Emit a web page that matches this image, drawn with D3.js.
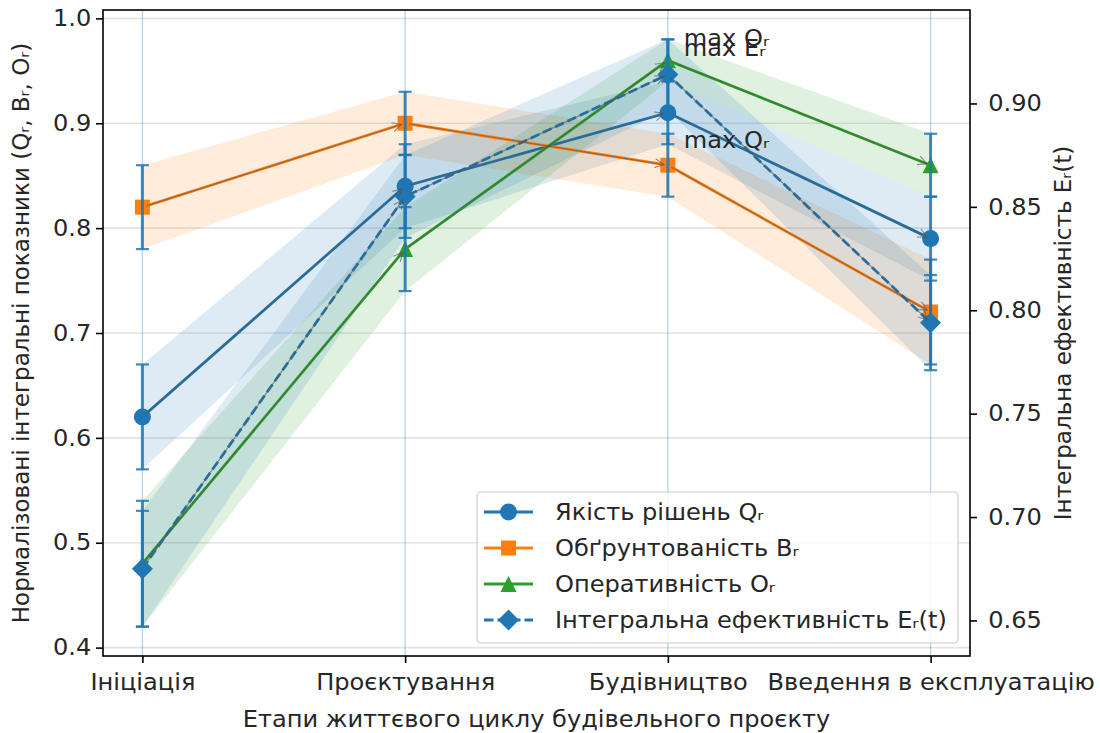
<!DOCTYPE html>
<html><head><meta charset="utf-8">
<script src="https://cdn.jsdelivr.net/npm/d3@7"></script>
<style>
body{margin:0;background:#fff}
text{font-family:"DejaVu Sans",sans-serif;fill:#262626}
</style>
</head><body>
<svg id="c" width="1100" height="733"></svg>
<script>
// ---- data ----
const categories = ["Ініціація", "Проєктування", "Будівництво", "Введення в експлуатацію"];
const qualityValues = [0.62, 0.84, 0.91, 0.79];
const qualityErrors = [0.05, 0.04, 0.03, 0.04];
const validityValues = [0.82, 0.90, 0.86, 0.72];
const validityErrors = [0.04, 0.03, 0.03, 0.05];
const promptValues = [0.48, 0.78, 0.96, 0.86];
const promptErrors = [0.06, 0.04, 0.02, 0.03];
const efficiencyValues = [0.675, 0.855, 0.914, 0.794];
const efficiencyErrors = [0.028, 0.02, 0.017, 0.023];
const leftTicks = [0.4, 0.5, 0.6, 0.7, 0.8, 0.9, 1.0];
const rightTicks = [0.65, 0.70, 0.75, 0.80, 0.85, 0.90];
const seriesNames = ["Якість рішень Qᵣ", "Обґрунтованість Bᵣ", "Оперативність Oᵣ", "Інтегральна ефективність Eᵣ(t)"];
const annotations = [
  {label: "max Oᵣ", series: 2, index: 2},
  {label: "max Eᵣ", series: 3, index: 2},
  {label: "max Qᵣ", series: 0, index: 2}
];

// ---- layout ----
const svg = d3.select("#c");
const L = 103, R = 970, T = 10, B = 656;
const FS = 22.5, SX = 1.07;

const x = d3.scalePoint().domain(categories).range([L, R]).padding(0.15);
function padded(vals, errs) {
  const lo = d3.min(vals, (v, i) => v - errs[i]);
  const hi = d3.max(vals, (v, i) => v + errs[i]);
  const p = (hi - lo) * 0.05;
  return [lo - p, hi + p];
}
const yL = d3.scaleLinear()
  .domain(padded([...qualityValues, ...validityValues, ...promptValues],
                 [...qualityErrors, ...validityErrors, ...promptErrors]))
  .range([B, T]);
const yR = d3.scaleLinear().domain(padded(efficiencyValues, efficiencyErrors)).range([B, T]);

const series = [
  {values: qualityValues, errors: qualityErrors, color: "#1f77b4", marker: "circle", y: yL},
  {values: validityValues, errors: validityErrors, color: "#ff7f0e", marker: "square", y: yL},
  {values: promptValues, errors: promptErrors, color: "#2ca02c", marker: "triangle", y: yL},
  {values: efficiencyValues, errors: efficiencyErrors, color: "#1f77b4", marker: "diamond", y: yR, dash: "9.5,4"}
];

function markerPath(type) {
  if (type === "circle") return d3.symbol(d3.symbolCircle, Math.PI * 8.5 * 8.5)();
  if (type === "square") return "M-7.5,-7.5H7.5V7.5H-7.5Z";
  if (type === "triangle") return "M0,-8L8,8H-8Z";
  return "M0,-10.5L10.5,0L0,10.5L-10.5,0Z";
}
function htext(parent, px, py, str, anchor) {
  return parent.append("text")
    .attr("transform", `translate(${px},${py}) scale(${SX},1)`)
    .attr("text-anchor", anchor || "start")
    .attr("font-size", FS).text(str);
}

// grid
const g = svg.append("g");
g.selectAll(".hg").data(leftTicks).join("line")
  .attr("x1", L).attr("x2", R).attr("y1", d => yL(d)).attr("y2", d => yL(d))
  .attr("stroke", "#b0b0b0").attr("stroke-opacity", 0.35).attr("stroke-width", 1.6);
g.selectAll(".vg").data(categories).join("line")
  .attr("x1", d => x(d)).attr("x2", d => x(d)).attr("y1", T).attr("y2", B)
  .attr("stroke", "#1f77b4").attr("stroke-opacity", 0.3).attr("stroke-width", 1.4);

// bands
series.forEach(s => {
  const area = d3.area()
    .x((d, i) => x(categories[i]))
    .y0((d, i) => s.y(d - s.errors[i]))
    .y1((d, i) => s.y(d + s.errors[i]));
  g.append("path").datum(s.values).attr("d", area)
    .attr("fill", s.color).attr("fill-opacity", 0.15);
});

// lines + markers
series.forEach(s => {
  const line = d3.line().x((d, i) => x(categories[i])).y(d => s.y(d));
  g.append("path").datum(s.values).attr("d", line)
    .attr("fill", "none").attr("stroke", s.color).attr("stroke-width", 2.8)
    .attr("stroke-dasharray", s.dash || null);
  if (s.marker !== "diamond") {
    g.selectAll(null).data(s.values).join("path")
      .attr("d", markerPath(s.marker))
      .attr("transform", (d, i) => `translate(${x(categories[i])},${s.y(d)})`)
      .attr("fill", s.color);
  }
});

// error bars
series.forEach(s => {
  s.values.forEach((v, i) => {
    const cx = x(categories[i]);
    const y1 = s.y(v + s.errors[i]), y2 = s.y(v - s.errors[i]);
    const eg = g.append("g").attr("stroke", "#1f77b4").attr("stroke-opacity", 0.85);
    eg.append("line").attr("x1", cx).attr("x2", cx).attr("y1", y1).attr("y2", y2).attr("stroke-width", 3);
    [y1, y2].forEach(yy => eg.append("line").attr("x1", cx - 6.5).attr("x2", cx + 6.5)
      .attr("y1", yy).attr("y2", yy).attr("stroke-width", 2.2));
  });
});

// diamond markers on top
{
  const s = series[3];
  g.selectAll(null).data(s.values).join("path")
    .attr("d", markerPath("diamond"))
    .attr("transform", (d, i) => `translate(${x(categories[i])},${s.y(d)})`)
    .attr("fill", s.color);
}

// transition arrows
const ag = svg.append("g").attr("stroke", "#555").attr("stroke-opacity", 0.6).attr("fill", "none").attr("stroke-width", 1.2);
series.forEach(s => {
  for (let i = 0; i < s.values.length - 1; i++) {
    const x0 = x(categories[i]), y0 = s.y(s.values[i]);
    const x1 = x(categories[i + 1]), y1 = s.y(s.values[i + 1]);
    const dx = x1 - x0, dy = y1 - y0, len = Math.hypot(dx, dy);
    const ux = dx / len, uy = dy / len;
    const sx = x0 + ux * 4, sy = y0 + uy * 4;
    const ex = x1 - ux * 4, ey = y1 - uy * 4;
    ag.append("line").attr("x1", sx).attr("y1", sy).attr("x2", ex).attr("y2", ey);
    const hl = 9, hw = 4.5;
    const bx = ex - ux * hl, by = ey - uy * hl;
    ag.append("path").attr("d",
      `M${bx - uy * hw},${by + ux * hw}L${ex},${ey}L${bx + uy * hw},${by - ux * hw}`);
  }
});

// annotations
const annOffsets = [[16, -14], [16, -19], [16, 35]];
annotations.forEach((a, k) => {
  const s = series[a.series];
  htext(svg, x(categories[a.index]) + annOffsets[k][0], s.y(s.values[a.index]) + annOffsets[k][1], a.label);
});

// axes
const axL = svg.append("g").attr("transform", `translate(${L},0)`)
  .call(d3.axisLeft(yL).tickValues(leftTicks).tickFormat(d3.format(".1f")).tickSize(7).tickPadding(4));
const axR = svg.append("g").attr("transform", `translate(${R},0)`)
  .call(d3.axisRight(yR).tickValues(rightTicks).tickFormat(d3.format(".2f")).tickSize(7).tickPadding(10));
const axB = svg.append("g").attr("transform", `translate(0,${B})`)
  .call(d3.axisBottom(x).tickSize(7).tickPadding(11));
[axL, axR, axB].forEach(a => {
  a.select(".domain").remove();
  a.selectAll(".tick line").attr("stroke", "#000").attr("stroke-width", 1.6);
  a.selectAll(".tick text").attr("font-size", FS).attr("fill", "#262626")
    .style("font-family", "DejaVu Sans").attr("transform", `scale(${SX},1)`);
});
svg.append("rect").attr("x", L).attr("y", T).attr("width", R - L).attr("height", B - T)
  .attr("fill", "none").attr("stroke", "#000").attr("stroke-width", 1.6);

// axis labels
htext(svg, (L + R) / 2, 727, "Етапи життєвого циклу будівельного проєкту", "middle");
svg.append("text").attr("transform", `translate(29,${(T + B) / 2}) rotate(-90)`)
  .attr("text-anchor", "middle").attr("font-size", 23)
  .text("Нормалізовані інтегральні показники (Qᵣ, Bᵣ, Oᵣ)");
svg.append("text").attr("transform", `translate(1071,${(T + B) / 2}) rotate(-90)`)
  .attr("text-anchor", "middle").attr("font-size", 23)
  .text("Інтегральна ефективність Eᵣ(t)");

// legend
const lg = svg.append("g");
lg.append("rect").attr("x", 477).attr("y", 492).attr("width", 481).attr("height", 151)
  .attr("rx", 4).attr("fill", "#fff").attr("fill-opacity", 0.8)
  .attr("stroke", "#ccc").attr("stroke-width", 1.2);
series.forEach((s, k) => {
  const yy = 512 + k * 36;
  lg.append("line").attr("x1", 484).attr("x2", 533).attr("y1", yy).attr("y2", yy)
    .attr("stroke", s.color).attr("stroke-width", 2.8).attr("stroke-dasharray", s.dash || null);
  lg.append("path").attr("d", markerPath(s.marker)).attr("transform", `translate(508.5,${yy})`)
    .attr("fill", s.color);
  htext(lg, 555, yy + 8, seriesNames[k]);
});
</script>
</body></html>
